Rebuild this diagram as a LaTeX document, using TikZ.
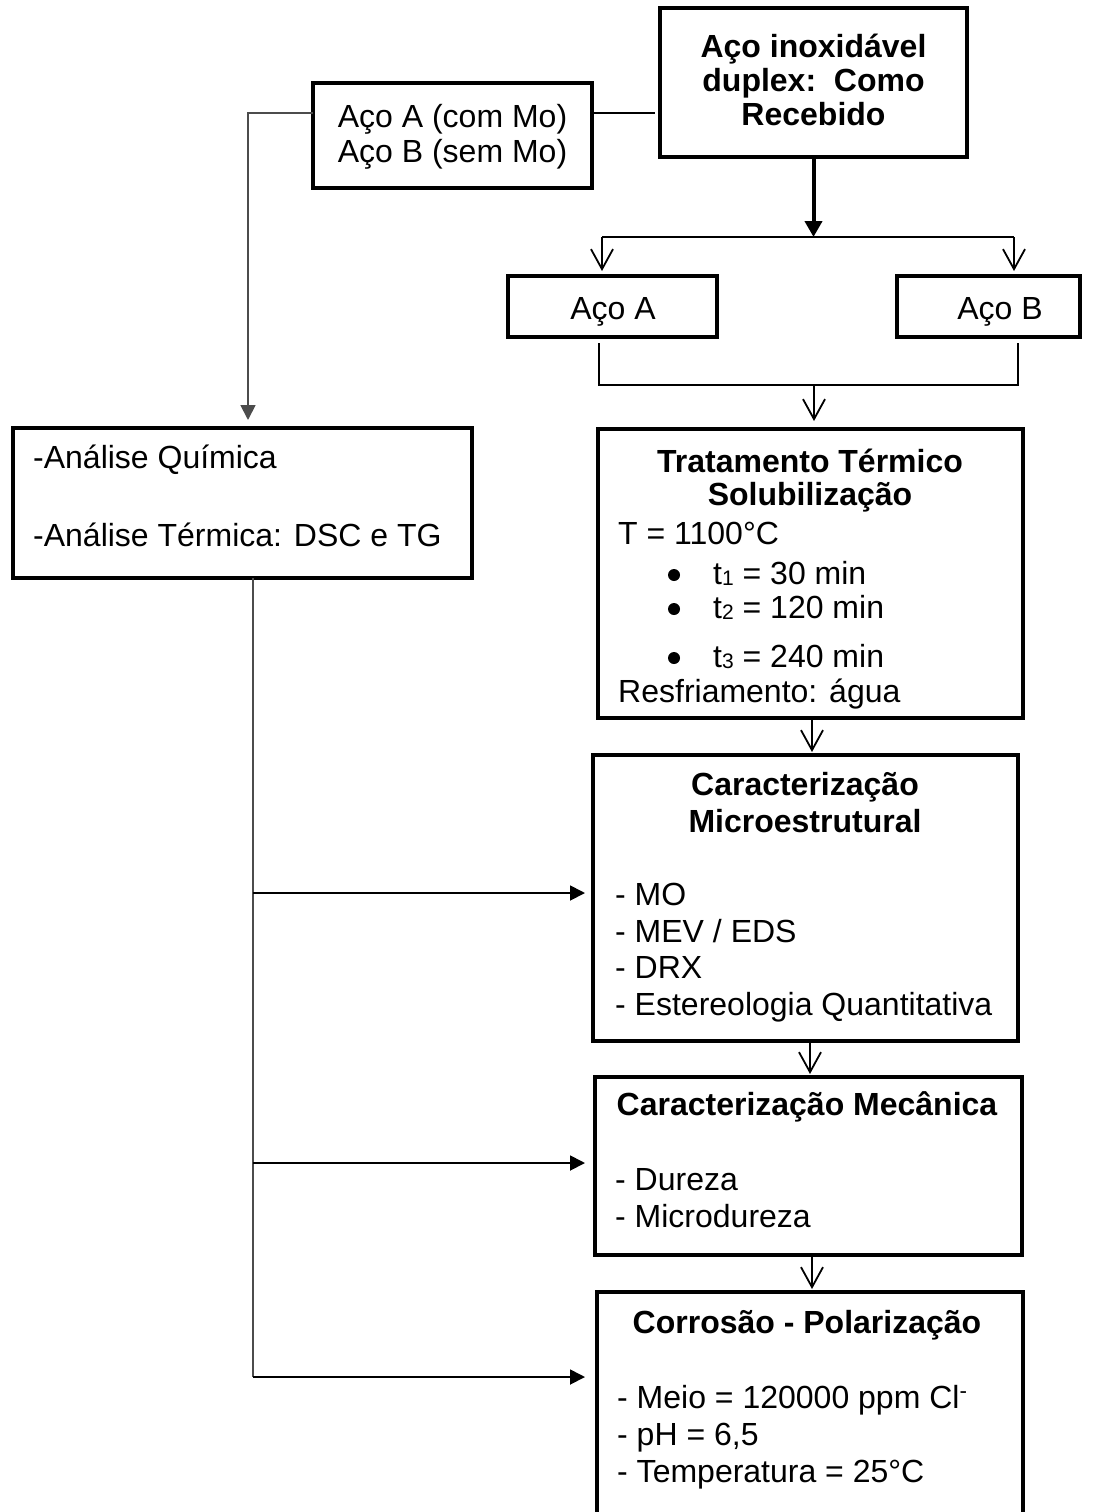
\documentclass[tikz,border=0pt]{standalone}
\usepackage{fontspec}
\setmainfont{Liberation Sans}
\usetikzlibrary{arrows.meta}
\newcommand{\lowsub}[1]{\raisebox{-1.5pt}{\fontsize{21}{21}\selectfont #1}}
\begin{document}
\begin{tikzpicture}[x=1pt,y=-1pt,
  box/.style={draw, line width=4.5pt, inner sep=0pt, outer sep=0pt},
  txt/.style={inner sep=0pt, font=\fontsize{32}{36.8}\selectfont},
  tl/.style={txt, anchor=base west},
  tc/.style={txt, anchor=base},
  tb/.style={inner sep=0pt, anchor=base, font=\fontsize{32}{36.8}\selectfont\bfseries},
  bulletdot/.style={circle, fill=black, draw=none, minimum size=12pt, inner sep=0pt},
  thinline/.style={line width=1.8pt},
  grayline/.style={line width=1.8pt, draw=black!70},
  vhead/.style={-{Straight Barb[length=20pt,width=22pt]}},
  trihead/.style={-{Triangle[length=15pt,width=15pt]}},
  bigarrow/.style={line width=4pt, -{Triangle[length=16pt,width=17pt]}}
]
\useasboundingbox (0,0) rectangle (1096,1512);

% boxes
\node[box, minimum width=307pt, minimum height=149pt] (top) at (813.5,82.5) {};
\node[box, minimum width=279pt, minimum height=105pt] (acoAB) at (452.5,135.5) {};
\node[box, minimum width=209pt, minimum height=61pt] (acoA) at (612.5,306.5) {};
\node[box, minimum width=183pt, minimum height=61pt] (acoB) at (988.5,306.5) {};
\node[box, minimum width=459pt, minimum height=150pt] (analise) at (242.5,503) {};
\node[box, minimum width=425pt, minimum height=289pt] (trat) at (810.5,573.5) {};
\node[box, minimum width=425pt, minimum height=286pt] (micro) at (805.5,898) {};
\node[box, minimum width=427pt, minimum height=178pt] (mec) at (808.5,1166) {};
\node[box, minimum width=426pt, minimum height=268pt] (corr) at (810,1426) {};

% texts
\node[tb] (t1) at (813.5,58) {Aço inoxidável};
\node[tb] (t2) at (813.5,92) {duplex:\ \ Como};
\node[tb] (t3) at (813.5,125) {Recebido};

\node[tc] (ab1) at (452.5,127) {Aço A (com Mo)};
\node[tc] (ab2) at (452.5,162) {Aço B (sem Mo)};

\node[tc] (la) at (613,319) {Aço A};
\node[tc] (lb) at (1000,319) {Aço B};

\node[tl] (an1) at (33,468) {-Análise Química};
\node[tl] (an2) at (33,546) {-Análise Térmica: DSC e TG};

\node[tb] (tr1) at (810,472) {Tratamento Térmico};
\node[tb] (tr2) at (810,505) {Solubilização};
\node[tl] (tr3) at (618,544) {T = 1100°C};
\node[bulletdot] (b1) at (674,575) {};
\node[bulletdot] (b2) at (674,609) {};
\node[bulletdot] (b3) at (674,658) {};
\node[tl] (tr4) at (713,584) {t\lowsub{1} = 30 min};
\node[tl] (tr5) at (713,618) {t\lowsub{2} = 120 min};
\node[tl] (tr6) at (713,667) {t\lowsub{3} = 240 min};
\node[tl] (tr7) at (618,702) {Resfriamento: água};

\node[tb] (mi1) at (805,795) {Caracterização};
\node[tb] (mi2) at (805,832) {Microestrutural};
\node[tl] (mi3) at (615,905) {- MO};
\node[tl] (mi4) at (615,942) {- MEV / EDS};
\node[tl] (mi5) at (615,978) {- DRX};
\node[tl] (mi6) at (615,1015) {- Estereologia Quantitativa};

\node[tb] (me1) at (807,1115) {Caracterização Mecânica};
\node[tl] (me2) at (615,1190) {- Dureza};
\node[tl] (me3) at (615,1227) {- Microdureza};

\node[tb] (co1) at (807,1333) {Corrosão - Polarização};
\node[tl] (co2) at (617,1408) {- Meio = 120000 ppm Cl\textsuperscript{-}};
\node[tl] (co3) at (617,1445) {- pH = 6,5};
\node[tl] (co4) at (617,1482) {- Temperatura = 25°C};

% connector coordinates
\coordinate (jL) at (248,113);
\coordinate (jR) at (655,113);
\coordinate (anTip) at (248,420);
\coordinate (split) at (813.5,237);
\coordinate (sL) at (602,237);
\coordinate (sR) at (1014,237);
\coordinate (aTip) at (602,271);
\coordinate (bTip) at (1014,271);
\coordinate (mL) at (599,343);
\coordinate (mLb) at (599,385);
\coordinate (mR) at (1018,343);
\coordinate (mRb) at (1018,385);
\coordinate (mC) at (814,385);
\coordinate (tTip) at (814,421);
\coordinate (tr0) at (812,718);
\coordinate (trTip) at (812,752);
\coordinate (mi0) at (810,1041);
\coordinate (miTip) at (810,1074);
\coordinate (me0) at (812,1255);
\coordinate (meTip) at (812,1289);
\coordinate (k0) at (253,578);
\coordinate (k1) at (253,893);
\coordinate (k2) at (253,1163);
\coordinate (k3) at (253,1377);
\coordinate (k1t) at (585,893);
\coordinate (k2t) at (585,1163);
\coordinate (k3t) at (585,1377);

% connectors
\draw[grayline, trihead] (acoAB.west |- jL) -- (jL) -- (anTip);
\draw[thinline] (acoAB.east |- jR) -- (jR);
\draw[bigarrow] (top.south) -- (split);
\draw[thinline] (sL) -- (sR);
\draw[thinline, vhead] (sL) -- (aTip);
\draw[thinline, vhead] (sR) -- (bTip);
\draw[thinline] (mL) -- (mLb) -- (mRb) -- (mR);
\draw[thinline, vhead] (mC) -- (tTip);
\draw[thinline, vhead] (tr0) -- (trTip);
\draw[thinline, vhead] (mi0) -- (miTip);
\draw[thinline, vhead] (me0) -- (meTip);
\draw[grayline] (k0) -- (k3);
\draw[thinline, trihead] (k1) -- (k1t);
\draw[thinline, trihead] (k2) -- (k2t);
\draw[thinline, trihead] (k3) -- (k3t);
\end{tikzpicture}
\end{document}
